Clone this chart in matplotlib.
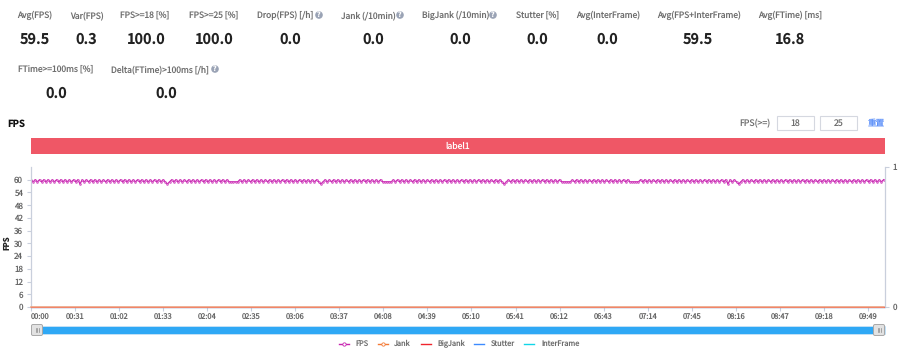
# -*- coding: utf-8 -*-
import matplotlib
matplotlib.use('Agg')
import matplotlib.pyplot as plt
from matplotlib.patches import Rectangle, Circle, FancyBboxPatch

plt.rcParams['font.family'] = ['Noto Sans CJK SC', 'DejaVu Sans']
plt.rcParams['text.hinting'] = 'no_hinting'

# %%
# header metrics: label, value
row1_labels = ['Avg(FPS)', 'Var(FPS)', 'FPS>=18 [%]', 'FPS>=25 [%]', 'Drop(FPS) [/h]',
               'Jank (/10min)', 'BigJank (/10min)', 'Stutter [%]', 'Avg(InterFrame)',
               'Avg(FPS+InterFrame)', 'Avg(FTime) [ms]']
row1_values = ['59.5', '0.3', '100.0', '100.0', '0.0', '0.0', '0.0', '0.0', '0.0', '59.5', '16.8']
row2_labels = ['FTime>=100ms [%]', 'Delta(FTime)>100ms [/h]']
row2_values = ['0.0', '0.0']

# FPS, one value every 1.5 s
fps_step = 1.5
fps = [
    60, 59, 60, 59, 60, 59, 60, 59, 60, 59, 60, 59, 60, 59, 60, 59, 60, 59, 60, 59,
    60, 59, 60, 58, 60, 59, 60, 59, 60, 59, 60, 59, 60, 59, 60, 59, 60, 59, 60, 59,
    60, 59, 60, 59, 60, 59, 60, 59, 60, 59, 60, 59, 60, 59, 60, 59, 60, 59, 60, 59,
    60, 59, 60, 59, 58, 59, 60, 59, 60, 59, 60, 59, 60, 59, 60, 59, 60, 59, 60, 59,
    60, 59, 60, 59, 60, 59, 60, 59, 60, 59, 60, 59, 60, 59, 59, 59, 59, 59, 60, 59,
    60, 59, 60, 59, 60, 59, 60, 59, 60, 59, 60, 59, 60, 59, 60, 59, 60, 59, 60, 59,
    60, 59, 60, 59, 60, 59, 60, 59, 60, 59, 60, 59, 60, 59, 60, 59, 58, 59, 60, 59,
    60, 59, 60, 59, 60, 59, 60, 59, 60, 59, 60, 59, 60, 59, 60, 59, 60, 59, 60, 59,
    60, 59, 60, 59, 60, 59, 59, 59, 59, 59, 60, 59, 60, 59, 60, 59, 60, 59, 60, 59,
    60, 59, 60, 59, 60, 59, 60, 59, 60, 59, 60, 59, 60, 59, 60, 59, 60, 59, 60, 59,
    60, 59, 60, 59, 60, 59, 60, 59, 60, 59, 60, 59, 60, 59, 60, 59, 60, 59, 60, 59,
    60, 59, 58, 59, 60, 59, 60, 59, 60, 59, 60, 59, 60, 59, 60, 59, 60, 59, 60, 59,
    60, 59, 60, 59, 60, 59, 60, 59, 60, 59, 59, 59, 59, 59, 60, 59, 60, 59, 60, 59,
    60, 59, 60, 59, 60, 59, 60, 59, 60, 59, 60, 59, 60, 59, 60, 59, 60, 59, 60, 59,
    60, 59, 59, 59, 59, 59, 60, 59, 60, 59, 60, 59, 60, 59, 60, 59, 60, 59, 60, 59,
    60, 59, 60, 59, 60, 59, 60, 59, 60, 59, 60, 59, 60, 59, 60, 59, 60, 59, 60, 59,
    60, 59, 60, 59, 60, 59, 60, 58, 60, 59, 60, 59, 58, 59, 60, 59, 60, 59, 60, 59,
    60, 59, 60, 59, 60, 59, 60, 59, 60, 59, 60, 59, 60, 59, 60, 59, 60, 59, 60, 59,
    60, 59, 60, 59, 60, 59, 60, 59, 60, 59, 60, 59, 60, 59, 60, 59, 60, 59, 60, 59,
    60, 59, 60, 59, 60, 59, 60, 59, 60, 59, 60, 59, 60, 59, 60, 59, 60, 59, 60, 59,
    60,
]
# the other series sit on zero the whole run (right axis)
jank = [0] * len(fps)
bigjank = [0] * len(fps)
stutter = [0] * len(fps)
interframe = [0] * len(fps)

time_labels = ['00:00', '00:31', '01:02', '01:33', '02:04', '02:35', '03:06', '03:37',
               '04:08', '04:39', '05:10', '05:41', '06:12', '06:43', '07:14', '07:45',
               '08:16', '08:47', '09:18', '09:49']
fps_ticks = [0, 6, 12, 18, 24, 30, 36, 42, 48, 54, 60]

GREY = '#6e6e6e'
AXIS = '#c9cfdc'
TICK = '#666666'
C_FPS = '#c723b0'

fig = plt.figure(figsize=(9.0, 3.51), dpi=100)

# %%
# page furniture, drawn in pixel coordinates
page = fig.add_axes([0, 0, 1, 1])
page.set_xlim(0, 900)
page.set_ylim(351, 0)
page.axis('off')

row1_x = [17.5, 70, 120, 189, 257, 341, 422, 516.5, 576, 657, 758]
row1_vx = [35, 86, 146, 214, 290, 373, 460, 537, 607, 698, 790]
for x, vx, lab, val in zip(row1_x, row1_vx, row1_labels, row1_values):
    page.text(x, 18, lab, fontsize=6.1, color=GREY, ha='left', va='baseline')
    page.text(vx, 44, val, fontsize=10.4, color='#222222', fontweight='bold', ha='center', va='baseline')

for x, vx, lab, val in zip([17.5, 111], [56, 166], row2_labels, row2_values):
    page.text(x, 72, lab, fontsize=6.1, color=GREY, ha='left', va='baseline')
    page.text(vx, 98, val, fontsize=10.4, color='#222222', fontweight='bold', ha='center', va='baseline')

for x, y in [(319, 15), (400, 15), (493, 15), (215, 69)]:
    page.add_patch(Circle((x, y), 3.8, color='#9aa3b5', lw=0))
    page.text(x, y + 2, '?', fontsize=5, color='white', fontweight='bold', ha='center', va='baseline')

page.text(7, 127, 'FPS', fontsize=6.9, color='#111111', fontweight='bold', ha='left', va='baseline')
page.text(739, 126, 'FPS(>=)', fontsize=6.3, color=GREY, ha='left', va='baseline')
for x0, x1, val in [(776.5, 813.5, '18'), (820, 857, '25')]:
    page.add_patch(Rectangle((x0, 116), x1 - x0, 13.5, fc='white', ec='#d5d8e0', lw=0.8))
    page.text((x0 + x1) / 2, 126, val, fontsize=6.3, color=GREY, ha='center', va='baseline')
page.text(876.5, 126, '重置', fontsize=6.2, color='#5b8ff9', ha='center', va='baseline')

page.add_patch(Rectangle((30.5, 138), 854.5, 15.5, fc='#ef5766', lw=0))
page.text(458, 148.5, 'label1', fontsize=6.2, color='white', ha='center', va='baseline')

page.text(7, 243, 'FPS', fontsize=5.6, color='#222222', fontweight='bold', rotation=90, ha='center', va='center')

# zoom slider
page.add_patch(Rectangle((31, 326), 854, 8, fc='#2fa8f5', ec='#d5e6f5', lw=0.5))
for x0 in [31, 873]:
    page.add_patch(FancyBboxPatch((x0 + 1, 325), 10, 10, boxstyle='round,pad=0.5,rounding_size=1.5',
                                  fc='#e2e2e2', ec='#a8a8a8', lw=0.7, zorder=3))
    for dx in [4.5, 6, 7.5]:
        page.plot([x0 + dx, x0 + dx], [328, 332], color='#8a8a8a', lw=0.5, zorder=4)

# %%
# the chart
ax = fig.add_axes([31 / 900, 1 - 307 / 351, 854 / 900, 140 / 351])
ax.patch.set_alpha(0)
t = [i * fps_step for i in range(len(fps))]
ax.plot(t, fps, color=C_FPS, lw=0.9, marker='o', ms=1.4, mfc='#e27fd5', mec=C_FPS, mew=0.3, label='FPS')
ax.set_xlim(0, 601)
ax.set_ylim(0, 66)
ax.set_yticks(fps_ticks)
tick_pos = [int(s[:2]) * 60 + int(s[3:]) for s in time_labels]
ax.set_xticks(tick_pos)
ax.set_xticklabels(time_labels)
ax.tick_params(axis='x', labelsize=5.4, colors=AXIS, labelcolor=TICK, length=3.2, width=0.8, pad=1.2)
ax.tick_params(axis='y', labelsize=5.8, colors=AXIS, labelcolor=TICK, length=3.2, width=0.8, pad=2.5)
ax.get_xticklabels()[0].set_ha('left')
for s in ['top', 'right']:
    ax.spines[s].set_visible(False)
for s in ['left', 'bottom']:
    ax.spines[s].set_color(AXIS)
    ax.spines[s].set_linewidth(0.9)

ax2 = ax.twinx()
ax2.patch.set_alpha(0)
ax2.set_ylim(0, 1)
ax2.set_yticks([0, 1])
ax2.tick_params(axis='y', labelsize=5.8, colors=AXIS, labelcolor=TICK, length=3.2, width=0.8, pad=2.5)
for s in ['top', 'left', 'bottom']:
    ax2.spines[s].set_visible(False)
ax2.spines['right'].set_color(AXIS)
ax2.spines['right'].set_linewidth(0.9)
ax2.plot(t, interframe, color='#12d6e8', lw=0.8, label='InterFrame', clip_on=False, zorder=5)
ax2.plot(t, stutter, color='#3d8bff', lw=0.8, label='Stutter', clip_on=False, zorder=5)
ax2.plot(t, bigjank, color='#f0252d', lw=0.8, label='BigJank', clip_on=False, zorder=5)
ax2.plot(t, jank, color='#f2a27c', lw=1.1, label='Jank', clip_on=False, zorder=6)

# legend handles: thicker / bigger markers than on the plot
hF, = page.plot([], [], color=C_FPS, lw=1, marker='o', ms=2.4, mfc='white', mew=0.6)
hJ, = page.plot([], [], color='#f47a35', lw=1, marker='o', ms=2.4, mfc='white', mew=0.6)
hB, = page.plot([], [], color='#f0252d', lw=1)
hS, = page.plot([], [], color='#3d8bff', lw=1)
hI, = page.plot([], [], color='#12d6e8', lw=1)
fig.legend([hF, hJ, hB, hS, hI], ['FPS', 'Jank', 'BigJank', 'Stutter', 'InterFrame'],
           loc='center', bbox_to_anchor=(459 / 900, 1 - 344 / 351), ncol=5, frameon=False,
           fontsize=5.3, labelcolor=GREY, handlelength=1.36, handletextpad=0.88,
           columnspacing=1.3, borderpad=0, borderaxespad=0)

plt.savefig('out.png', dpi=100)
